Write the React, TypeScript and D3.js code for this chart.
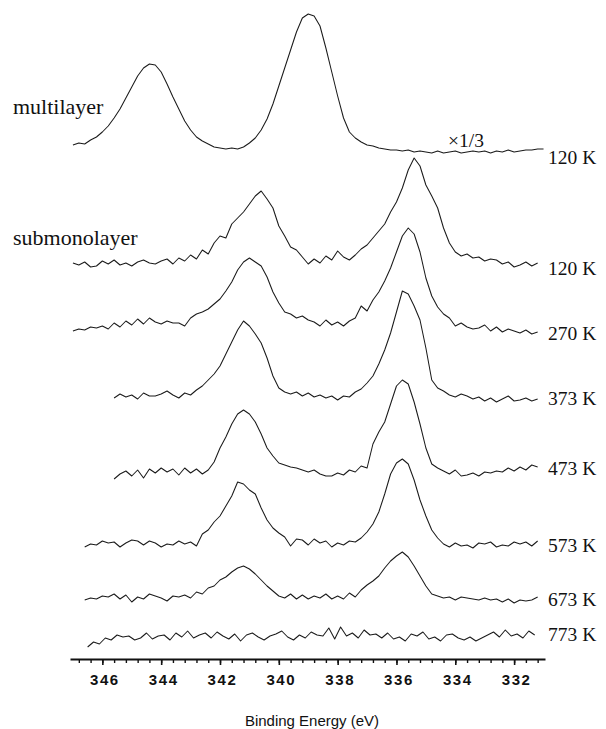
import React, { useEffect, useRef } from "react";
import * as d3 from "d3";

const WIDTH = 606;
const HEIGHT = 729;

// Energy step of every scan (eV); scans run from high to low binding energy
const STEP = 0.2;

// Pd 3d region, one scan per row (top to bottom)
const spectrumLabels = ["120 K", "120 K", "270 K", "373 K", "473 K", "573 K", "673 K", "773 K"];
const startEnergies = [347.0, 347.0, 347.0, 345.6, 345.6, 346.6, 346.6, 346.5];
// vertical stacking offset of each scan (arb. units)
const stackOffsets = [507, 394, 331, 261, 187, 115, 61, 22];

// intensities above each scan's own baseline (arb. units)
const multilayer120 = [
  7, 9, 8, 12, 15, 20, 26, 34, 43, 54,
  65, 76, 84, 88, 87, 80, 68, 55, 43, 31,
  22, 15, 11, 8, 5, 4, 3, 4, 3, 5,
  9, 14, 22, 33, 48, 66, 84, 102, 120, 134,
  138, 136, 126, 104, 80, 56, 34, 20, 14, 10,
  7, 6, 4, 3, 2, 2, 1, 2, 0, 1,
  0, -1, 1, -1, 0, 1, -1, 0, 1, 0,
  1, -1, 1, 0, 2, 0, 1, 2, 2, 3,
  3,
];
const sub120 = [
  2, 0, 3, -2, -1, 4, 1, 5, 0, 2,
  -1, 3, 5, 2, 1, 4, 6, 1, 7, 4,
  10, 6, 15, 11, 22, 29, 27, 41, 47, 53,
  61, 69, 74, 66, 57, 39, 29, 18, 15, 8,
  1, 6, 2, 9, 5, 14, 8, 5, 10, 16,
  20, 27, 34, 41, 53, 63, 77, 95, 107, 99,
  80, 69, 57, 37, 22, 13, 9, 11, 7, 8,
  4, 6, 5, 1, 3, -2, 0, 3, -1, 2,
];
const sub270 = [
  -3, -1, -2, 1, 0, 2, -1, 5, 1, 7,
  3, 9, 4, 10, 6, 4, 7, 5, 5, 2,
  10, 14, 16, 19, 24, 29, 37, 46, 58, 66,
  70, 66, 62, 51, 36, 25, 16, 14, 10, 12,
  8, 6, 2, 8, 3, 6, 2, 7, 10, 22,
  17, 28, 36, 47, 60, 76, 92, 100, 94, 76,
  50, 32, 21, 14, 10, 2, 5, 1, -1, 0,
  3, -3, 1, -4, -1, -3, -5, -2, -6, -4,
];
const sub373 = [
  0, 4, 1, 3, -1, 5, 2, 2, 4, 7,
  3, 0, 5, 3, 8, 12, 18, 24, 32, 44,
  56, 68, 77, 72, 64, 55, 40, 22, 10, 6,
  4, 6, 2, 5, 1, 3, 0, 2, -2, 2,
  1, 6, 9, 15, 22, 34, 48, 65, 86, 107,
  104, 92, 78, 50, 18, 10, 7, 3, 1, 4,
  2, -1, 1, -3, 0, -4, -1, 2, -3, -2,
  0, -3, -1,
];
const sub473 = [
  -7, -2, 1, -4, 2, -6, 3, -1, 4, 0,
  3, -3, 4, -1, 3, -2, 2, 10, 24, 35,
  48, 58, 62, 58, 50, 38, 24, 16, 9, 7,
  5, 4, 2, 0, 2, -2, -4, -4, -1, -3,
  2, 0, 6, 4, 28, 40, 50, 68, 86, 92,
  88, 70, 48, 24, 8, 4, 1, -2, 2, -4,
  -3, -1, -4, 0, -1, 1, 0, 4, 1, 5,
  2, 7, 5,
];
const sub573 = [
  -3, 0, -1, 3, 1, 2, -3, 1, 4, 3,
  -1, 3, 1, -3, 0, -1, 3, 0, 2, -2,
  10, 14, 22, 28, 38, 48, 62, 60, 54, 50,
  36, 24, 16, 11, 7, -2, 5, 4, -1, 5,
  1, 3, -3, 1, -1, 3, 2, 6, 12, 20,
  32, 50, 70, 81, 85, 80, 64, 44, 28, 14,
  6, 0, -3, 1, -2, -1, -4, 1, 0, 2,
  -3, -1, -2, 2, 0, 2, -2, 3,
];
const sub673 = [
  -2, 0, -1, 2, 1, 4, -1, 3, -4, 1,
  -1, 4, 2, 0, -3, 2, 1, 3, 0, 6,
  4, 10, 12, 18, 21, 26, 30, 32, 29, 24,
  18, 12, 7, 2, 0, 4, -1, 3, -1, 2,
  0, 4, -1, 2, -1, 5, 1, 8, 13, 17,
  22, 30, 37, 42, 46, 41, 32, 22, 12, 4,
  2, 0, 1, -2, 1, 0, -1, -2, 0, -2,
  -1, -4, -1, -5, -2, -3, -2, 1,
];
const sub773 = [
  -10, -5, -7, -1, -3, 2, 0, 1, -3, -1,
  4, -2, 1, 2, -3, 4, 0, 6, -1, 2,
  4, -1, 5, 1, -2, 3, -4, 2, 4, 0,
  -3, 1, 3, 6, 0, -3, 2, -1, 5, 2,
  1, 9, -2, 10, 1, 4, -1, 7, 2, 3,
  -1, 4, -2, 0, -4, 3, 1, 5, -2, 0,
  -4, 2, 3, -1, -3, 0, -4, -1, 2, 5,
  0, 7, 1, 3, -1, 6, 2,
];

const spectra = [multilayer120, sub120, sub270, sub373, sub473, sub573, sub673, sub773];

const majorTicks = [346, 344, 342, 340, 338, 336, 334, 332];
const MINOR_STEP = 0.4;

export default function App() {
  const axisRef = useRef<SVGGElement>(null);

  const x = d3.scaleLinear().domain([347.1, 330.95]).range([70, 545]);
  const y = d3.scaleLinear().domain([0, 659]).range([659, 0]);
  const axisY = y(0);

  const minorTicks = d3.range(0, 40).map((i) => 346.8 - i * MINOR_STEP).filter((e) => e > 330.95);

  const line = (start: number, offset: number) =>
    d3
      .line<number>()
      .x((_, i) => x(start - i * STEP))
      .y((v) => y(offset + v))
      .curve(d3.curveLinear);

  useEffect(() => {
    if (!axisRef.current) return;
    const g = d3.select(axisRef.current);
    g.selectAll("*").remove();

    const minorAxis = d3
      .axisBottom(x)
      .tickValues(minorTicks)
      .tickSize(4)
      .tickSizeOuter(0)
      .tickFormat(() => "");
    const majorAxis = d3
      .axisBottom(x)
      .tickValues(majorTicks)
      .tickSize(6)
      .tickSizeOuter(0)
      .tickPadding(9)
      .tickFormat(d3.format("d"));

    const gm = g.append("g").call(minorAxis);
    gm.select(".domain").remove();
    gm.selectAll(".tick line").attr("stroke", "#111").attr("stroke-width", 1.4);

    const gM = g.append("g").call(majorAxis);
    gM.select(".domain").attr("stroke", "#111").attr("stroke-width", 2.2);
    gM.selectAll(".tick line").attr("stroke", "#111").attr("stroke-width", 1.6);
    gM.selectAll(".tick text")
      .attr("font-family", "'Liberation Sans', Arial, sans-serif")
      .attr("font-size", 15)
      .attr("font-weight", "bold")
      .attr("letter-spacing", "1.6px")
      .attr("fill", "#111")
      .attr("dx", "2");
  }, []);

  const serif = "'Liberation Serif', 'Times New Roman', serif";
  const labelNudge = [5, 3, 5, 0, -4, 1, 1, -3];

  return (
    <svg
      width={WIDTH}
      height={HEIGHT}
      viewBox={`0 0 ${WIDTH} ${HEIGHT}`}
      style={{ position: "absolute", left: 0, top: 0, background: "#fff" }}
    >
      <rect width={WIDTH} height={HEIGHT} fill="#fff" />
      {spectra.map((vals, k) => (
        <path
          key={k}
          d={line(startEnergies[k], stackOffsets[k])(vals) || ""}
          fill="none"
          stroke="#1a1a1a"
          strokeWidth={1.05}
          strokeLinejoin="round"
        />
      ))}
      {spectrumLabels.map((lab, k) => (
        <text
          key={k}
          x={548}
          y={y(stackOffsets[k]) + labelNudge[k]}
          dominantBaseline="central"
          fontFamily={serif}
          fontSize={19.5}
          fill="#111"
        >
          {lab}
        </text>
      ))}
      <text x={448} y={147} fontFamily={serif} fontSize={19.5} fill="#111">
        ×1/3
      </text>
      <text x={13} y={114} fontFamily={serif} fontSize={22} fill="#111">
        multilayer
      </text>
      <text x={13} y={245} fontFamily={serif} fontSize={22} fill="#111">
        submonolayer
      </text>
      <g ref={axisRef} transform={`translate(0,${axisY})`} />
      <text
        x={312}
        y={726}
        textAnchor="middle"
        fontFamily="'Liberation Sans', Arial, sans-serif"
        fontSize={15}
        fill="#111"
      >
        Binding Energy (eV)
      </text>
    </svg>
  );
}
